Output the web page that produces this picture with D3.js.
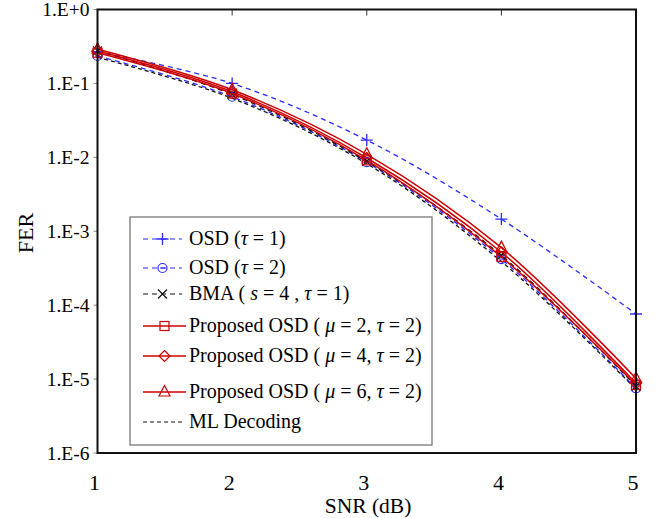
<!DOCTYPE html>
<html><head><meta charset="utf-8">
<script src="https://cdn.jsdelivr.net/npm/d3@7"></script>
<style>body{margin:0;background:#fff}svg{display:block}text{font-family:"Liberation Serif","Times New Roman",serif}</style>
</head><body><svg id="c" width="660" height="518"></svg>
<script>
const snr = [1, 2, 3, 4, 5];
const xTicks = [1, 2, 3, 4, 5];
const yTicks = [1, 1e-1, 1e-2, 1e-3, 1e-4, 1e-5, 1e-6];
const yTickLabels = ["1.E+0", "1.E-1", "1.E-2", "1.E-3", "1.E-4", "1.E-5", "1.E-6"];
const osdT1 = [0.27, 0.10, 0.0171, 0.00146, 7.6e-5];
const osdT2 = [0.235, 0.066, 0.0086, 4.2e-4, 7.5e-6];
const bma = [0.275, 0.071, 0.0088, 4.7e-4, 8.0e-6];
const propMu2 = [0.26, 0.073, 0.0091, 4.5e-4, 8.3e-6];
const propMu4 = [0.275, 0.077, 0.0098, 5.2e-4, 8.8e-6];
const propMu6 = [0.29, 0.082, 0.0110, 6.0e-4, 1.02e-5];
const mlDec = [0.225, 0.063, 0.0082, 3.9e-4, 7.3e-6];

const series = [
  {vals: osdT1, color: "#2b2bff", dash: "5,4", marker: "plus", label: [["OSD (",""],["τ","i"],[" = 1)",""]]},
  {vals: osdT2, color: "#2b2bff", dash: "5,4", marker: "circle", label: [["OSD (",""],["τ","i"],[" = 2)",""]]},
  {vals: bma, color: "#111", dash: "5,4", marker: "x", label: [["BMA ( ",""],["s","i"],[" = 4 ,  ",""],["τ","i"],[" = 1)",""]]},
  {vals: propMu2, color: "#cc0000", dash: null, marker: "square", label: [["Proposed OSD ( ",""],["μ","i"],[" = 2, ",""],["τ","i"],[" = 2)",""]]},
  {vals: propMu4, color: "#cc0000", dash: null, marker: "diamond", label: [["Proposed OSD ( ",""],["μ","i"],[" = 4, ",""],["τ","i"],[" = 2)",""]]},
  {vals: propMu6, color: "#cc0000", dash: null, marker: "triangle", label: [["Proposed OSD ( ",""],["μ","i"],[" = 6, ",""],["τ","i"],[" = 2)",""]]},
  {vals: mlDec, color: "#111", dash: "4,3", marker: null, label: [["ML Decoding",""]]}
];

const svg = d3.select("#c");
const L = 97.5, R = 636, T = 9.5, B = 453;
const x = d3.scaleLinear().domain([1, 5]).range([L, R]);
const y = d3.scaleLog().domain([1e-6, 1]).range([B, T]);

svg.append("g").selectAll("line").data(yTicks).join("line")
  .attr("x1", L - 4).attr("x2", L).attr("y1", d => y(d)).attr("y2", d => y(d))
  .attr("stroke", "#888").attr("stroke-width", 1);
svg.append("g").selectAll("text").data(yTicks).join("text")
  .attr("x", L - 8).attr("y", d => y(d) + 6.5).attr("text-anchor", "end")
  .attr("font-size", 19.5).text((d, i) => yTickLabels[i]);

svg.append("g").selectAll("line").data(xTicks.slice(1, -1)).join("line")
  .attr("x1", d => x(d)).attr("x2", d => x(d)).attr("y1", T).attr("y2", T + 6)
  .attr("stroke", "#333").attr("stroke-width", 1);
svg.append("g").selectAll("text").data(xTicks).join("text")
  .attr("x", d => x(d) - 3).attr("y", 490).attr("text-anchor", "middle")
  .attr("font-size", 22).text(d => d);

svg.append("text").attr("x", 368).attr("y", 513).attr("text-anchor", "middle").attr("font-size", 21.5).text("SNR (dB)");
svg.append("text").attr("transform", "translate(33,233) rotate(-90)").attr("text-anchor", "middle").attr("font-size", 22).text("FER");

const line = d3.line().x((d, i) => x(snr[i])).y(d => y(d)).curve(d3.curveCatmullRom.alpha(0.5));

function marker(g, type, cx, cy, color) {
  if (type === "plus") {
    g.append("path").attr("d", `M${cx-6},${cy}H${cx+6}M${cx},${cy-6}V${cy+6}`).attr("stroke", color).attr("stroke-width", 1.3).attr("fill", "none");
  } else if (type === "circle") {
    g.append("circle").attr("cx", cx).attr("cy", cy).attr("r", 4.5).attr("stroke", color).attr("stroke-width", 1.2).attr("fill", "none");
    g.append("line").attr("x1", cx - 2.5).attr("x2", cx + 2.5).attr("y1", cy).attr("y2", cy).attr("stroke", color).attr("stroke-width", 1);
  } else if (type === "x") {
    g.append("path").attr("d", `M${cx-4.5},${cy-4.5}L${cx+4.5},${cy+4.5}M${cx-4.5},${cy+4.5}L${cx+4.5},${cy-4.5}`).attr("stroke", color).attr("stroke-width", 1.2).attr("fill", "none");
  } else if (type === "square") {
    g.append("rect").attr("x", cx - 4.5).attr("y", cy - 4.5).attr("width", 9).attr("height", 9).attr("stroke", color).attr("stroke-width", 1.2).attr("fill", "none");
  } else if (type === "diamond") {
    g.append("path").attr("d", `M${cx},${cy-5.5}L${cx+5.5},${cy}L${cx},${cy+5.5}L${cx-5.5},${cy}Z`).attr("stroke", color).attr("stroke-width", 1.2).attr("fill", "none");
  } else if (type === "triangle") {
    g.append("path").attr("d", `M${cx},${cy-6.5}L${cx+5.5},${cy+4}L${cx-5.5},${cy+4}Z`).attr("stroke", color).attr("stroke-width", 1.2).attr("fill", "none");
  }
}

const plotG = svg.append("g");
const order = [6, 0, 1, 2, 3, 4, 5];
order.forEach(k => {
  const s = series[k];
  plotG.append("path").attr("d", line(s.vals)).attr("fill", "none").attr("stroke", s.color)
    .attr("stroke-width", s.dash ? 1.3 : 1.5).attr("stroke-dasharray", s.dash);
});
order.forEach(k => {
  const s = series[k];
  if (s.marker) s.vals.forEach((v, i) => marker(plotG, s.marker, x(snr[i]), y(v), s.color));
});

svg.append("rect").attr("x", L).attr("y", T).attr("width", R - L).attr("height", B - T).attr("fill", "none").attr("stroke", "#111").attr("stroke-width", 2);

const lg = svg.append("g");
lg.append("rect").attr("x", 130).attr("y", 217).attr("width", 302).attr("height", 228).attr("fill", "#fff").attr("stroke", "#777").attr("stroke-width", 1.3);
const rowsY = [239, 268, 294, 326, 356, 392, 422];
series.forEach((s, i) => {
  const ry = rowsY[i];
  const x1 = 143, x2 = s.dash ? 182 : 186;
  lg.append("line").attr("x1", x1).attr("x2", x2).attr("y1", ry).attr("y2", ry).attr("stroke", s.color).attr("stroke-width", s.dash ? 1.2 : 1.5).attr("stroke-dasharray", s.dash);
  if (s.marker) marker(lg, s.marker, (x1 + x2) / 2, ry, s.color);
  const t = lg.append("text").attr("x", 189).attr("y", ry + 6).attr("font-size", 20);
  s.label.forEach(p => { const ts = t.append("tspan").text(p[0]); if (p[1] === "i") ts.attr("font-style", "italic"); });
});
</script></body></html>
